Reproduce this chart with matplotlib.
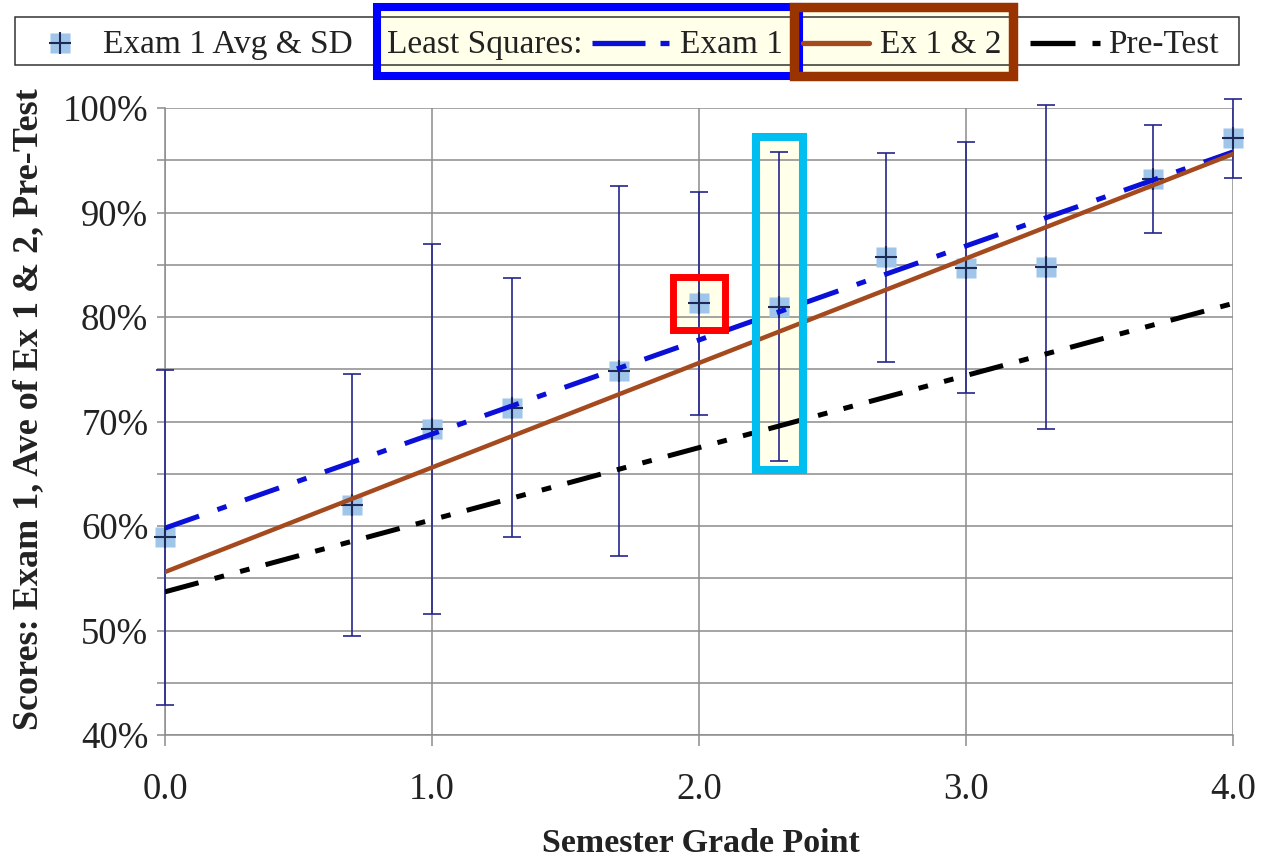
import matplotlib
matplotlib.use('Agg')
import matplotlib.pyplot as plt
from matplotlib.patches import Rectangle
from matplotlib.lines import Line2D
from matplotlib.ticker import MultipleLocator, PercentFormatter
import numpy as np

# exam 1 averages and standard deviations by semester grade point
gpa = [0.0, 0.7, 1.0, 1.3, 1.7, 2.0, 2.3, 2.7, 3.0, 3.3, 3.7, 4.0]
exam1_avg = [58.9, 62.0, 69.3, 71.3, 74.8, 81.3, 81.0, 85.7, 84.7, 84.8, 93.2, 97.1]
exam1_sd = [16.0, 12.5, 17.7, 12.4, 17.7, 10.7, 14.8, 10.0, 12.0, 15.5, 5.2, 3.8]

# least squares lines (score = a + b * gpa)
fit_names = ['Exam 1', 'Ex 1 & 2', 'Pre-Test']
fit_intercept = [59.8, 55.6, 53.7]
fit_slope = [9.0, 10.0, 6.9]

plt.rcParams['font.family'] = ['Liberation Serif', 'DejaVu Serif']
plt.rcParams['lines.scale_dashes'] = False

W, H = 1268, 857
def fx(px):
    return px / W
def fy(py):
    return 1 - py / H

grid_col = '#8c8c8c'
text_col = '#222222'
ivory = '#ffffea'
fit_styles = [
    dict(color='#0a10d8', lw=3.6, linestyle=(0, (26, 14, 7, 14))),
    dict(color='#a44a1e', lw=3.2, linestyle='-'),
    dict(color='#000000', lw=3.6, linestyle=(0, (25, 12, 7, 12, 7, 12))),
]

fig = plt.figure(figsize=(W / 100, H / 100), dpi=100)
ax = fig.add_axes([fx(165), fy(735), fx(1233) - fx(165), fy(108) - fy(735)])

ax.set_xlim(0, 4)
ax.set_ylim(40, 100)
ax.xaxis.set_major_locator(MultipleLocator(1))
ax.yaxis.set_major_locator(MultipleLocator(10))
ax.yaxis.set_minor_locator(MultipleLocator(5))
ax.yaxis.set_major_formatter(PercentFormatter(decimals=0))
ax.xaxis.set_major_formatter(lambda v, p: f'{v:.1f}')
ax.grid(True, which='both', axis='y', color=grid_col, lw=1.1, zorder=1)
ax.grid(True, which='major', axis='x', color=grid_col, lw=1.1, zorder=1)
ax.set_axisbelow(True)
for s in ['top', 'right']:
    ax.spines[s].set_visible(False)
for s in ['left', 'bottom']:
    ax.spines[s].set_color(grid_col)
    ax.spines[s].set_linewidth(1.1)
ax.tick_params(axis='y', which='both', length=6, width=1.1, color=grid_col,
               labelsize=26.5, labelcolor=text_col, pad=6)
ax.tick_params(axis='x', length=8, width=1.1, color=grid_col,
               labelsize=26.5, labelcolor=text_col, pad=19)

# highlighted point at 2.0 and error bar at 2.3
i_red = gpa.index(2.0)
i_cyan = gpa.index(2.3)
red_w, red_h = 0.195, 5.0
ax.add_patch(Rectangle((gpa[i_red] - red_w / 2, exam1_avg[i_red] - red_h / 2), red_w, red_h,
                       facecolor=ivory, edgecolor='none', zorder=0.2))
cy_lo = exam1_avg[i_cyan] - exam1_sd[i_cyan] - 0.8
cy_hi = exam1_avg[i_cyan] + exam1_sd[i_cyan] + 1.4
cy_w = 0.176
ax.add_patch(Rectangle((gpa[i_cyan] - cy_w / 2, cy_lo), cy_w, cy_hi - cy_lo,
                       facecolor=ivory, edgecolor='none', zorder=0.2))

# averages with SD bars
ax.errorbar(gpa, exam1_avg, yerr=exam1_sd, fmt='none', ecolor='#25258c',
            elinewidth=1.2, capsize=6.5, capthick=1.2, zorder=3, clip_on=False)
ax.plot(gpa, exam1_avg, 's', ms=15, color='#9fc5ea', mec='none', zorder=3.5, clip_on=False)
ax.plot(gpa, exam1_avg, '+', ms=15.5, mew=1.5, color='#1c2a55', zorder=3.6, clip_on=False)

# least squares lines
xs = np.array([0.0, 4.0])
for a, b, st in zip(fit_intercept, fit_slope, fit_styles):
    ax.plot(xs, a + b * xs, zorder=4, **st)

ax.add_patch(Rectangle((gpa[i_red] - red_w / 2, exam1_avg[i_red] - red_h / 2), red_w, red_h,
                       facecolor='none', edgecolor='#ff0000', lw=5, zorder=6, clip_on=False))
ax.add_patch(Rectangle((gpa[i_cyan] - cy_w / 2, cy_lo), cy_w, cy_hi - cy_lo,
                       facecolor='none', edgecolor='#00bff0', lw=5.8, zorder=6, clip_on=False))

# axis titles
fig.text(fx(29), fy(409), 'Scores: Exam 1, Ave of Ex 1 & 2, Pre-Test', rotation=90,
         ha='center', va='center', fontsize=26, fontweight='bold', color=text_col)
fig.text(fx(701), fy(843), 'Semester Grade Point', ha='center', va='center',
         fontsize=24.5, fontweight='bold', color=text_col)

# legend strip along the top
def frect(x0, y0, x1, y1, **kw):
    fig.add_artist(Rectangle((fx(x0), fy(y1)), fx(x1) - fx(x0), fy(y0) - fy(y1),
                             transform=fig.transFigure, **kw))

def fline(x0, x1, y, **kw):
    fig.add_artist(Line2D([fx(x0), fx(x1)], [fy(y), fy(y)], transform=fig.transFigure, **kw))

frect(15, 17, 1239, 65, facecolor='white', edgecolor='none')
frect(377, 7, 799, 76, facecolor=ivory, edgecolor='none')
frect(794, 7, 1013, 76, facecolor=ivory, edgecolor='none')
frect(15, 17, 1239, 65, facecolor='none', edgecolor='#333333', lw=1.1)

ly = 43
fig.add_artist(Line2D([fx(60)], [fy(ly)], marker='s', ms=15, color='#9fc5ea', mec='none',
                      transform=fig.transFigure))
fig.add_artist(Line2D([fx(60)], [fy(ly)], marker='+', ms=15.5, mew=1.5, color='#1c2a55',
                      transform=fig.transFigure))
fs = 24
ty = ly + 2
fig.text(fx(103), fy(ty), 'Exam 1 Avg & SD', ha='left', va='center', fontsize=fs, color=text_col)
fig.text(fx(387), fy(ty), 'Least Squares:', ha='left', va='center', fontsize=fs, color=text_col)

fline(592, 645, ly, color=fit_styles[0]['color'], lw=3.8, solid_capstyle='butt')
fline(660, 669, ly, color=fit_styles[0]['color'], lw=3.8, solid_capstyle='butt')
fig.text(fx(680), fy(ty), fit_names[0], ha='left', va='center', fontsize=fs, color=text_col)

fline(803, 869, ly, color=fit_styles[1]['color'], lw=3.8, solid_capstyle='round')
fig.text(fx(880), fy(ty), fit_names[1], ha='left', va='center', fontsize=fs, color=text_col)

fline(1030, 1075, ly, color='black', lw=3.8, solid_capstyle='butt')
fline(1092, 1100, ly, color='black', lw=3.8, solid_capstyle='butt')
fig.text(fx(1108), fy(ty), fit_names[2], ha='left', va='center', fontsize=fs, color=text_col)

frect(377, 7, 799, 76, facecolor='none', edgecolor='#0000ff', lw=5.8)
frect(794, 7, 1013, 76, facecolor='none', edgecolor='#993300', lw=6.8)

fig.savefig('out.png', dpi=100, facecolor='white')
